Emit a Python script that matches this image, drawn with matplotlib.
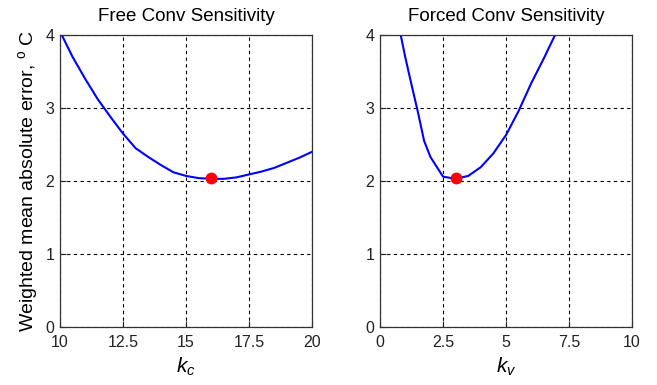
import numpy as np
import matplotlib
matplotlib.use('Agg')
import matplotlib.pyplot as plt

plt.rcParams['font.family'] = ['Liberation Sans', 'DejaVu Sans']
plt.rcParams['mathtext.fontset'] = 'custom'
plt.rcParams['mathtext.it'] = 'Liberation Sans:italic'
plt.rcParams['mathtext.rm'] = 'Liberation Sans'

# free convection coefficient sweep
kc = [10.0, 10.5, 11.0, 11.5, 12.0, 12.5, 13.0, 13.5, 14.0, 14.5, 15.0,
      15.5, 16.0, 16.5, 17.0, 17.5, 18.0, 18.5, 19.0, 19.5, 20.0]
err_kc = [4.05, 3.70, 3.40, 3.12, 2.88, 2.65, 2.45, 2.33, 2.22, 2.12, 2.07,
          2.04, 2.03, 2.03, 2.05, 2.09, 2.13, 2.18, 2.25, 2.32, 2.40]

# forced convection coefficient sweep
kv = [0.5, 0.75, 1.0, 1.25, 1.5, 1.75, 2.0, 2.5, 3.0, 3.5, 4.0,
      4.5, 5.0, 5.5, 6.0, 6.5, 7.0, 7.5]
err_kv = [4.55, 4.12, 3.70, 3.32, 2.95, 2.55, 2.33, 2.06, 2.03, 2.07, 2.19,
          2.38, 2.63, 2.96, 3.34, 3.68, 4.04, 4.45]

# optimum
kc_opt, kv_opt, err_opt = 16.0, 3.0, 2.04

fig = plt.figure(figsize=(6.57, 3.85), dpi=100)
ax1 = fig.add_axes([0.0913, 0.1506, 0.3836, 0.7584])
ax2 = fig.add_axes([0.5784, 0.1506, 0.3836, 0.7584])


def style(ax, xticks, xlim, title, xlabel):
    ax.set_xlim(xlim)
    ax.set_ylim(0, 4)
    ax.set_xticks(xticks)
    ax.set_xticklabels([('%g' % t) for t in xticks])
    ax.set_yticks([0, 1, 2, 3, 4])
    ax.grid(True, color='black', linestyle=(0, (3, 3)), linewidth=0.8)
    ax.tick_params(direction='in', labelsize=11.5, length=4, colors='#222222')
    ax.tick_params(axis='x', pad=6)
    ax.tick_params(axis='y', pad=4)
    for s in ax.spines.values():
        s.set_linewidth(0.9)
        s.set_color('#333333')
    ax.set_title(title, fontsize=13.5, pad=10)
    ax.set_xlabel(xlabel, fontsize=15, labelpad=4)


ax1.plot(kc, err_kc, color='blue', linewidth=1.5)
ax1.plot(kc_opt, err_opt, 'o', color='red', markersize=7.5)
style(ax1, [10, 12.5, 15, 17.5, 20], (10, 20), 'Free Conv Sensitivity', '$k_c$')
ax1.set_ylabel('Weighted mean absolute error, $^{\\rm o}$ C', fontsize=14, labelpad=4)

ax2.plot(kv, err_kv, color='blue', linewidth=1.5)
ax2.plot(kv_opt, err_opt, 'o', color='red', markersize=7.5)
style(ax2, [0, 2.5, 5, 7.5, 10], (0, 10), 'Forced Conv Sensitivity', '$k_v$')

fig.savefig('out.png', dpi=100)
